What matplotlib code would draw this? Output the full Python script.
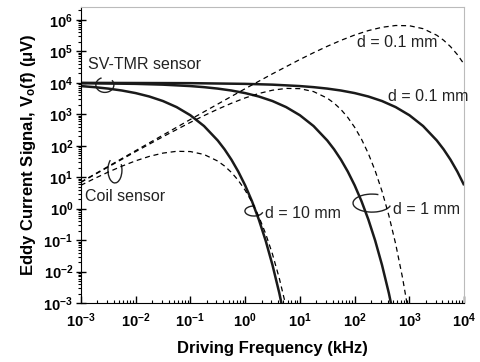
import numpy as np
import matplotlib
matplotlib.use('Agg')
import matplotlib.pyplot as plt
from matplotlib.patches import Arc

plt.rcParams['font.family'] = ['Liberation Sans', 'DejaVu Sans']
plt.rcParams['mathtext.fontset'] = 'custom'
plt.rcParams['mathtext.rm'] = 'Liberation Sans:bold'
plt.rcParams['mathtext.bf'] = 'Liberation Sans:bold'
plt.rcParams['mathtext.it'] = 'Liberation Sans:bold'

# --- data (kHz, uV) ---
# SV-TMR sensor, d = 10 mm
f_s10 = [0.001, 0.001778, 0.003162, 0.005623, 0.01, 0.01778, 0.03162, 0.05623, 0.1, 0.1778,
         0.3162, 0.4217, 0.5623, 0.7499, 1.0, 1.3335, 1.7783, 2.3714, 3.1623, 4.217, 5.623]
v_s10 = [7888, 7288, 6559, 5698, 4724, 3677, 2636, 1690, 933, 423,
         147, 76.7, 36.1, 15.1, 5.53, 1.73, 0.454, 0.0965, 0.0161, 0.00205, 0.000189]

# SV-TMR sensor, d = 1 mm
f_s1 = [0.001, 0.01, 0.03162, 0.1, 0.1778, 0.3162, 0.5623, 1.0, 1.778, 3.162, 5.623, 10, 17.78,
        31.62, 42.17, 56.23, 74.99, 100, 133.35, 177.83, 237.14, 316.23, 421.7, 562.3]
v_s1 = [9766, 9277, 8752, 7888, 7288, 6559, 5698, 4724, 3677, 2636, 1690, 933, 423,
        147, 76.7, 36.1, 15.1, 5.53, 1.73, 0.454, 0.0965, 0.0161, 0.00205, 0.000189]

# SV-TMR sensor, d = 0.1 mm
f_s01 = [0.001, 0.1, 1.0, 3.162, 10, 17.78, 31.62, 56.23, 100, 177.8, 316.2, 562.3, 1000,
         1778, 3162, 4217, 5623, 7499, 10000]
v_s01 = [9976, 9766, 9277, 8752, 7888, 7288, 6559, 5698, 4724, 3677, 2636, 1690, 933,
         423, 147, 76.7, 36.1, 15.1, 5.53]

# Coil sensor, d = 10 mm
f_c10 = [0.001, 0.001778, 0.003162, 0.005623, 0.01, 0.01778, 0.03162, 0.05623, 0.1, 0.1778,
         0.3162, 0.4217, 0.5623, 0.7499, 1.0, 1.3335, 1.7783, 2.3714, 3.1623, 4.217, 5.623]
v_c10 = [5.52, 9.07, 14.5, 22.4, 33.1, 45.8, 58.3, 66.5, 65.3, 52.7,
         32.6, 22.6, 14.2, 7.93, 3.87, 1.62, 0.565, 0.160, 0.0357, 0.00605, 0.000744]

# Coil sensor, d = 1 mm
f_c1 = [0.001, 0.01, 0.03162, 0.1, 0.1778, 0.3162, 0.5623, 1.0, 1.778, 3.162, 5.623, 10, 17.78,
        31.62, 42.17, 56.23, 74.99, 100, 133.35, 177.83, 237.14, 316.23, 421.7, 562.3, 749.9, 1000]
v_c1 = [6.84, 64.9, 193.7, 552, 907, 1450, 2240, 3310, 4580, 5830, 6650, 6530, 5270,
        3260, 2260, 1420, 793, 387, 162, 56.5, 16.0, 3.57, 0.605, 0.0744, 0.0063, 0.00035]

# Coil sensor, d = 0.1 mm
f_c01 = [0.001, 0.01, 0.1, 1.0, 3.162, 10, 17.78, 31.62, 56.23, 100, 177.8, 316.2, 562.3,
         1000, 1778, 3162, 4217, 5623, 7499, 10000]
v_c01 = [6.98, 69.5, 684, 6494, 19370, 55200, 90700, 145000, 224000, 331000, 458000, 583000,
         665000, 653000, 527000, 326000, 226000, 142000, 79300, 38700]

x_ticks = [1e-3, 1e-2, 1e-1, 1e0, 1e1, 1e2, 1e3, 1e4]
y_ticks = [1e-3, 1e-2, 1e-1, 1e0, 1e1, 1e2, 1e3, 1e4, 1e5, 1e6]

XMIN, XMAX = 1e-3, 1e4
YMIN, YMAX = 1e-3, 2.6e6

fig = plt.figure(figsize=(4.81, 3.62), dpi=100)
ax = fig.add_axes([0.168, 0.163, 0.797, 0.818])

solid_kw = dict(color='#1a1a1a', lw=1.8, solid_capstyle='butt')
dash_kw = dict(color='black', lw=0.9, linestyle=(0, (4, 3)))

for f, v in [(f_s10, v_s10), (f_s1, v_s1), (f_s01, v_s01)]:
    ax.plot(f, v, **solid_kw)
for f, v in [(f_c10, v_c10), (f_c1, v_c1), (f_c01, v_c01)]:
    ax.plot(f, v, **dash_kw)

ax.set_xscale('log')
ax.set_yscale('log')
ax.set_xlim(XMIN, XMAX)
ax.set_ylim(YMIN, YMAX)

ax.set_xticks(x_ticks)
ax.set_xticklabels([r'$\mathbf{10^{%d}}$' % int(np.log10(t)) for t in x_ticks])
ax.set_yticks(y_ticks)
ax.set_yticklabels([r'$\mathbf{10^{%d}}$' % int(np.log10(t)) for t in y_ticks])
ax.tick_params(axis='x', which='major', direction='in', length=5, width=1, labelsize=10.5, pad=6)
ax.tick_params(axis='x', which='minor', direction='in', length=2.5, width=0.8)
ax.tick_params(axis='y', which='major', direction='inout', length=7, width=1, labelsize=10.5, pad=2)
ax.tick_params(axis='y', which='minor', direction='out', length=2.5, width=0.8)

for s in ['top', 'right']:
    ax.spines[s].set_color('#bbbbbb')
    ax.spines[s].set_linewidth(0.8)

ax.set_xlabel('Driving Frequency (kHz)', fontsize=12, fontweight='bold', labelpad=8)
ax.set_ylabel(r'Eddy Current Signal, V$_{\mathbf{o}}$(f) (μV)', fontsize=12,
              fontweight='bold', labelpad=4)

# annotations
txt_kw = dict(fontsize=11.5, color='#222222', va='center', ha='left')
ax.text(1.34e-3, 3.7e4, 'SV-TMR sensor', **txt_kw)
ax.text(1.18e-3, 2.35, 'Coil sensor', **txt_kw)
ax.text(111, 1.86e5, 'd = 0.1 mm', **txt_kw)
ax.text(409, 3.57e3, 'd = 0.1 mm', **txt_kw)
ax.text(2.31, 0.68, 'd = 10 mm', **txt_kw)
ax.text(505, 0.91, 'd = 1 mm', **txt_kw)

# curved markers that point at the groups of curves
W_PX, H_PX = 383.0, 296.0


def loop(x, y, w, h, t1, t2):
    fx = (np.log10(x) - np.log10(XMIN)) / (np.log10(XMAX) - np.log10(XMIN))
    fy = (np.log10(y) - np.log10(YMIN)) / (np.log10(YMAX) - np.log10(YMIN))
    ax.add_patch(Arc((fx, fy), w / W_PX, h / H_PX, theta1=t1, theta2=t2,
                     transform=ax.transAxes, color='#222222', lw=1.0))


loop(2.75e-3, 8.6e3, 18, 15, 110, 400)
loop(4.2e-3, 17, 14, 26, 110, 410)
loop(1.45, 0.84, 18, 10, 80, 350)
loop(208, 1.5, 38, 18, 60, 350)

fig.savefig('out.png', dpi=100)
